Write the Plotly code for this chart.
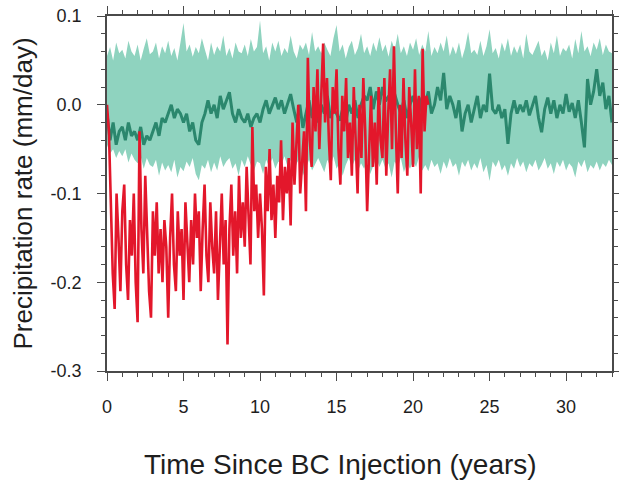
import numpy as np
import plotly.graph_objects as go

# ---------------- data ----------------
# Red series: BC injection run, sampled every 1/8 year from 0 to 21
bc_step = 0.125
bc_values = [
    0.00, -0.03, -0.11, -0.19, -0.23, -0.10, -0.15, -0.21,
    -0.12, -0.09, -0.18, -0.22, -0.13, -0.17, -0.10, -0.20,
    -0.245, -0.03, -0.14, -0.19, -0.08, -0.16, -0.21, -0.24,
    -0.12, -0.17, -0.11, -0.19, -0.14, -0.20, -0.13, -0.16,
    -0.24, -0.15, -0.10, -0.18, -0.21, -0.12, -0.17, -0.14,
    -0.22, -0.11, -0.16, -0.20, -0.13, -0.18, -0.10, -0.15,
    -0.12, -0.21, -0.14, -0.09, -0.17, -0.20, -0.11, -0.16,
    -0.19, -0.12, -0.22, -0.15, -0.10, -0.18, -0.13, -0.27,
    -0.14, -0.09, -0.17, -0.12, -0.19, -0.08, -0.15, -0.11,
    -0.16, -0.07, -0.13, -0.18, -0.025, -0.12, -0.09, -0.15,
    -0.10, -0.14, -0.215, -0.07, -0.12, -0.05, -0.13, -0.09,
    -0.15, -0.08, -0.11, -0.04, -0.13, -0.07, -0.10, -0.06,
    -0.136, -0.02, -0.09, -0.05, 0.00, -0.10, -0.06, -0.03,
    -0.12, 0.053, -0.04, -0.07, 0.02, -0.03, 0.04, -0.05,
    0.01, 0.069, -0.02, 0.03, -0.04, -0.085, 0.02, -0.01,
    0.04, -0.05, -0.09, 0.01, -0.03, 0.03, -0.06, -0.02,
    -0.08, 0.02, -0.04, -0.10, 0.00, -0.06, 0.03, -0.03,
    -0.12, -0.05, 0.01, -0.07, -0.02, -0.09, 0.02, -0.04,
    -0.06, 0.03, -0.08, -0.01, 0.04, -0.05, 0.066, -0.03,
    -0.10, 0.00, -0.06, 0.03, -0.04, -0.08, 0.02, -0.02,
    -0.07, 0.04, -0.05, 0.01, -0.10, 0.063, -0.03, 0.01,
    0.00,
]

# Control ensemble: mean and spread, sampled every 0.2 year from 0 to 33
ctl_step = 0.2
ctl_mean = [
    -0.01, -0.04, -0.02, -0.045, -0.03,
    -0.025, -0.04, -0.02, -0.035, -0.03,
    -0.04, -0.025, -0.045, -0.035, -0.04,
    -0.03, -0.02, -0.035, -0.015, -0.02,
    -0.01, 0.0, -0.015, -0.005, -0.01,
    -0.02, -0.01, -0.03, -0.02, -0.04,
    -0.045, -0.02, -0.01, 0.005, -0.01,
    0.0, -0.015, 0.01, -0.005, 0.005,
    0.014, -0.01, -0.02, -0.005, -0.015,
    -0.02, -0.01, -0.025, -0.015, -0.01,
    -0.02, -0.005, 0.005, -0.01, 0.0,
    0.008, -0.005, 0.005, -0.01, 0.0,
    0.012, -0.005, -0.02, 0.0, -0.026,
    -0.01, 0.005, -0.015, -0.005, -0.02,
    0.0, -0.01, 0.01, -0.015, -0.005,
    -0.01, -0.018, -0.005, -0.02, 0.0,
    -0.01, 0.005, -0.015, 0.0, 0.01,
    0.005, 0.02, -0.005, 0.015, 0.0,
    0.02, 0.004, 0.01, -0.005, 0.012,
    0.0, -0.01, 0.005, -0.015, 0.0,
    0.01, -0.005, 0.008, -0.01, 0.0,
    0.015, -0.01, 0.0, 0.02, 0.005,
    0.036, -0.005, 0.01, 0.0, -0.015,
    0.005, -0.03, -0.01, 0.0, -0.02,
    -0.005, 0.01, -0.015, 0.0, -0.008,
    0.035, -0.005, -0.01, 0.0, -0.015,
    -0.005, -0.044, -0.01, 0.005, -0.01,
    0.0, -0.008, 0.005, -0.012, -0.002,
    0.01, -0.015, -0.031, -0.005, 0.008,
    -0.01, 0.005, -0.015, 0.0, -0.01,
    0.012, -0.008, 0.002, -0.015, 0.005,
    -0.02, -0.048, 0.029, 0.0, 0.015,
    0.04, 0.01, 0.025, -0.005, 0.01,
    -0.02,
]
ctl_upper = [
    0.055, 0.065, 0.05, 0.07, 0.058,
    0.062, 0.052, 0.072, 0.06, 0.055,
    0.068, 0.05, 0.063, 0.075, 0.057,
    0.06, 0.07, 0.052, 0.066, 0.058,
    0.072, 0.055, 0.064, 0.05, 0.07,
    0.092, 0.06, 0.068, 0.054, 0.065,
    0.058, 0.075, 0.062, 0.05, 0.07,
    0.056, 0.066, 0.06, 0.078, 0.055,
    0.064, 0.052, 0.07, 0.06, 0.058,
    0.068, 0.055, 0.074, 0.06, 0.065,
    0.095, 0.058, 0.066, 0.05, 0.07,
    0.06, 0.072, 0.055, 0.064, 0.058,
    0.078, 0.06, 0.052, 0.068, 0.062,
    0.07, 0.056, 0.082, 0.06, 0.066,
    0.058, 0.07, 0.062, 0.055, 0.075,
    0.09, 0.06, 0.068, 0.052, 0.065,
    0.072, 0.056, 0.064, 0.08, 0.058,
    0.066, 0.055, 0.07, 0.06, 0.076,
    0.06, 0.068, 0.054, 0.072, 0.062,
    0.08, 0.058, 0.066, 0.055, 0.07,
    0.062, 0.075, 0.056, 0.068, 0.06,
    0.083, 0.055, 0.065, 0.058, 0.07,
    0.06, 0.078, 0.055, 0.066, 0.057,
    0.07, 0.052, 0.064, 0.082, 0.058,
    0.062, 0.056, 0.072, 0.055, 0.066,
    0.085, 0.058, 0.064, 0.052, 0.07,
    0.06, 0.075, 0.055, 0.066, 0.058,
    0.068, 0.052, 0.08, 0.06, 0.056,
    0.064, 0.072, 0.055, 0.062, 0.05,
    0.07, 0.058, 0.078, 0.055, 0.064,
    0.06, 0.068, 0.052, 0.074, 0.058,
    0.083, 0.06, 0.066, 0.055, 0.07,
    0.062, 0.075, 0.056, 0.068, 0.06,
    0.058,
]
ctl_lower = [
    -0.045, -0.055, -0.05, -0.06, -0.052,
    -0.058, -0.05, -0.065, -0.055, -0.062,
    -0.066, -0.058, -0.072, -0.06, -0.068,
    -0.07, -0.062, -0.08, -0.065, -0.074,
    -0.068, -0.076, -0.062, -0.082, -0.07,
    -0.075, -0.064, -0.07, -0.06, -0.078,
    -0.085, -0.068, -0.072, -0.062, -0.076,
    -0.065, -0.074, -0.058, -0.07, -0.064,
    -0.06, -0.072, -0.066, -0.08, -0.062,
    -0.07, -0.058, -0.068, -0.075, -0.064,
    -0.066, -0.078, -0.062, -0.07, -0.06,
    -0.072, -0.064, -0.068, -0.058, -0.07,
    -0.062, -0.075, -0.066, -0.06, -0.08,
    -0.07, -0.062, -0.074, -0.066, -0.06,
    -0.068, -0.076, -0.062, -0.07, -0.058,
    -0.072, -0.065, -0.08, -0.068, -0.06,
    -0.07, -0.062, -0.075, -0.066, -0.072,
    -0.064, -0.078, -0.068, -0.06, -0.07,
    -0.062, -0.072, -0.066, -0.082, -0.064,
    -0.07, -0.06, -0.076, -0.066, -0.072,
    -0.064, -0.07, -0.058, -0.074, -0.068,
    -0.075, -0.062, -0.07, -0.066, -0.078,
    -0.064, -0.072, -0.06, -0.07, -0.066,
    -0.08, -0.064, -0.07, -0.062, -0.074,
    -0.066, -0.072, -0.06, -0.076, -0.068,
    -0.086, -0.064, -0.07, -0.062, -0.074,
    -0.068, -0.08, -0.066, -0.072, -0.06,
    -0.07, -0.064, -0.076, -0.066, -0.07,
    -0.062, -0.074, -0.068, -0.06, -0.072,
    -0.066, -0.078, -0.064, -0.07, -0.062,
    -0.074, -0.066, -0.07, -0.082, -0.064,
    -0.07, -0.062, -0.076, -0.068, -0.072,
    -0.064, -0.074, -0.066, -0.07, -0.062,
    -0.068,
]

x_tick_vals = [0, 5, 10, 15, 20, 25, 30]
x_tick_labels = ["0", "5", "10", "15", "20", "25", "30"]
y_tick_vals = [0.1, 0.0, -0.1, -0.2, -0.3]
y_tick_labels = ["0.1", "0.0", "-0.1", "-0.2", "-0.3"]

x_title = "Time Since BC Injection (years)"
y_title = "Precipitation rate (mm/day)"

# ---------------- figure ----------------
bc_x = np.arange(len(bc_values)) * bc_step
ctl_x = np.arange(len(ctl_mean)) * ctl_step

BAND = "#8fd3bf"
MEAN = "#2b876d"
RED = "#e3172b"
AXIS = "#4a4a4a"
TEXT = "#1e1e1e"
FONT = "Liberation Sans, Arial, sans-serif"

fig = go.Figure()
fig.add_trace(go.Scatter(x=ctl_x, y=ctl_lower, mode="lines",
                         line=dict(width=0, color=BAND), hoverinfo="skip",
                         showlegend=False))
fig.add_trace(go.Scatter(x=ctl_x, y=ctl_upper, mode="lines", fill="tonexty",
                         fillcolor=BAND, line=dict(width=0, color=BAND),
                         showlegend=False))
fig.add_trace(go.Scatter(x=ctl_x, y=ctl_mean, mode="lines",
                         line=dict(width=3, color=MEAN), showlegend=False))
fig.add_trace(go.Scatter(x=bc_x, y=bc_values, mode="lines",
                         line=dict(width=2.6, color=RED), showlegend=False))

axis_common = dict(
    showline=True, linecolor=AXIS, linewidth=1.6, mirror="ticks",
    ticks="outside", ticklen=8, tickwidth=1.4, tickcolor=AXIS,
    showgrid=False, zeroline=False, automargin=False,
    tickfont=dict(family=FONT, size=18, color=TEXT),
)

fig.update_layout(
    width=619, height=482,
    margin=dict(l=107, r=7, t=16, b=111),
    paper_bgcolor="white", plot_bgcolor="white",
    font=dict(family=FONT, color=TEXT),
    xaxis=dict(
        range=[0, 33], tickvals=x_tick_vals, ticktext=x_tick_labels,
        minor=dict(ticks="outside", dtick=1, tick0=0, ticklen=4,
                   tickwidth=1, tickcolor=AXIS),
        ticklabelstandoff=11,
        **axis_common,
    ),
    yaxis=dict(
        range=[-0.3, 0.1], tickvals=y_tick_vals, ticktext=y_tick_labels,
        minor=dict(ticks="outside", dtick=0.02, tick0=0, ticklen=4,
                   tickwidth=1, tickcolor=AXIS),
        ticklabelstandoff=12,
        title=dict(text=y_title, font=dict(family=FONT, size=26, color=TEXT),
                   standoff=10),
        **axis_common,
    ),
    annotations=[
        dict(text=x_title, xref="paper", yref="paper",
             x=0.463, y=-0.262, xanchor="center", yanchor="middle",
             showarrow=False, font=dict(family=FONT, size=28, color=TEXT)),
    ],
)

fig.write_html(
    "out.html",
    config={"displayModeBar": False},
    post_script="document.body.style.margin='0';document.body.style.padding='0';",
)
